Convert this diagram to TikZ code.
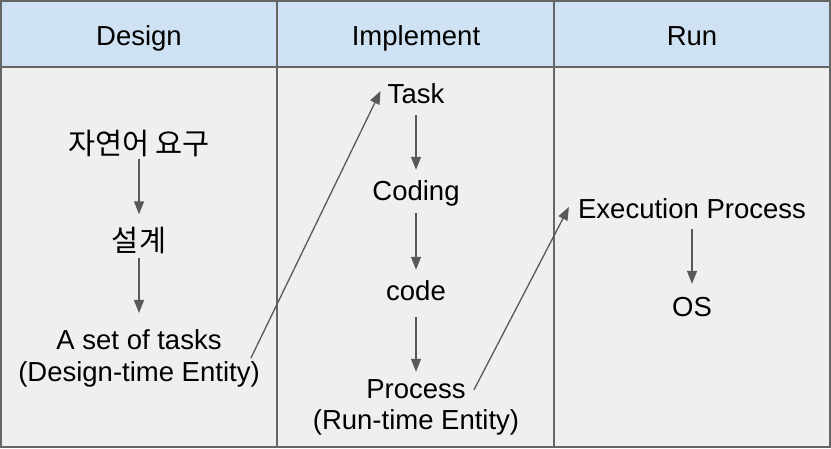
\documentclass[tikz,border=0pt]{standalone}
\usepackage{fontspec}
\usetikzlibrary{arrows.meta}
\setmainfont{Liberation Sans}
\newfontfamily\krfont[Scale=1.07]{Noto Sans CJK KR}
\definecolor{headblue}{HTML}{CFE2F3}
\definecolor{bodygray}{HTML}{EFEFEF}
\definecolor{edgegray}{HTML}{666666}
\definecolor{arrowgray}{HTML}{595959}

\begin{document}
\begin{tikzpicture}[x=1pt,y=-1pt,
    lbl/.style={inner sep=3pt,font=\fontsize{27.5}{32}\selectfont,text height=20pt,text depth=6pt},
    lbltwo/.style={inner sep=0pt,font=\fontsize{27.5}{32}\selectfont,align=center},
    arr/.style={draw=arrowgray,line width=1.3pt,-{Triangle[length=13pt,width=10pt]},shorten <=4pt,shorten >=7pt}]
    \useasboundingbox (0,0) rectangle (831,448);

    % table
    \fill[bodygray] (1,67) rectangle (830,447);
    \fill[headblue] (1,1) rectangle (830,67);
    \draw[edgegray,line width=2pt] (1,1) rectangle (830,447);
    \draw[edgegray,line width=2pt] (1,67) -- (830,67);
    \draw[edgegray,line width=2pt] (277,1) -- (277,447);
    \draw[edgegray,line width=2pt] (554,1) -- (554,447);

    \node[lbl] (hdesign) at (139,38) {Design};
    \node[lbl] (himpl) at (416,38) {Implement};
    \node[lbl] (hrun) at (692,38) {Run};

    % design column
    \node[lbl] (req) at (139,147.5) {\krfont 자연어 요구};
    \node[lbl] (plan) at (139,244.5) {\krfont 설계};
    \node[lbltwo] (tasks) at (139,358) {A set of tasks\\(Design-time Entity)};

    % implement column
    \node[lbl] (task) at (416,96) {Task};
    \node[lbl] (coding) at (416,193) {Coding};
    \node[lbl] (code) at (416,293) {code};
    \node[lbl] (proc) at (416,391) {Process};
    \node[lbl] (rte) at (416,422) {(Run-time Entity)};

    % run column
    \node[lbl] (exec) at (692,211) {Execution Process};
    \node[lbl] (os) at (692,309) {OS};

    \draw[arr,shorten <=-5pt,shorten >=14pt] (req) -- (plan);
    \draw[arr,shorten <=-3pt,shorten >=16pt] (plan) -- (tasks);
    \draw[arr,shorten <=3pt] (task) -- (coding);
    \draw[arr] (coding) -- (code);
    \draw[arr,shorten <=8pt,shorten >=3pt] (code) -- (proc);
    \draw[arr,shorten <=2pt,shorten >=9pt] (exec) -- (os);

    \draw[arr,shorten <=0pt,shorten >=0pt] ([xshift=-9pt]tasks.east) -- ([shift={(-4pt,5pt)}]task.west);
    \draw[arr,shorten <=0pt,shorten >=0pt] ([shift={(5pt,1pt)}]proc.east) -- ([shift={(-6pt,4pt)}]exec.west);
\end{tikzpicture}
\end{document}
